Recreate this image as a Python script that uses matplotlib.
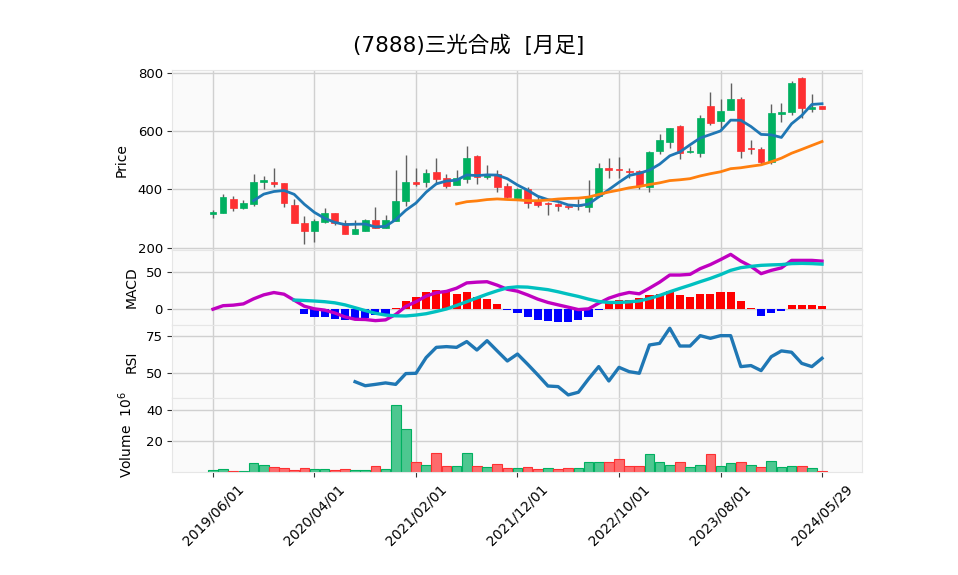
import numpy as np
import matplotlib
matplotlib.use("Agg")
import matplotlib.pyplot as plt

plt.rcParams['font.family'] = ['DejaVu Sans', 'Noto Sans CJK JP']

# 月足データ (2019/06 - 2024/05/29), 株価は円, 出来高は百万株
tick_labels = ['2019/06/01', '2020/04/01', '2021/02/01', '2021/12/01',
               '2022/10/01', '2023/08/01', '2024/05/29']

open_ = [316, 319, 368, 335, 349, 425, 427, 421, 345, 284, 257, 288, 318, 286, 248, 257,
         294, 269, 292, 360, 427, 425, 458, 438, 415, 436, 515, 442, 454, 413, 371, 400,
         360, 352, 349, 344, 344, 340, 378, 472, 470, 464, 463, 408, 531, 563, 618, 528,
         524, 687, 634, 671, 708, 542, 539, 493, 659, 664, 782, 675, 687]
high = [328, 385, 377, 364, 454, 447, 472, 421, 368, 310, 299, 335, 320, 296, 294, 297,
        341, 311, 467, 519, 474, 471, 508, 454, 467, 548, 519, 484, 466, 421, 406, 408,
        377, 357, 354, 350, 366, 432, 490, 507, 512, 474, 468, 532, 589, 612, 620, 548,
        654, 734, 710, 763, 717, 570, 544, 693, 696, 770, 785, 728, 687]
low = [303, 319, 326, 334, 343, 402, 409, 341, 284, 214, 220, 286, 278, 248, 248, 256,
       267, 269, 292, 343, 411, 407, 423, 406, 414, 423, 419, 435, 392, 371, 368, 335,
       340, 311, 325, 332, 328, 324, 374, 440, 439, 440, 400, 392, 521, 543, 503, 525,
       512, 620, 605, 671, 507, 520, 482, 488, 631, 656, 645, 666, 674]
close = [321, 373, 336, 352, 427, 431, 418, 354, 286, 257, 291, 318, 284, 248, 263, 294,
         269, 294, 362, 424, 418, 455, 436, 411, 438, 508, 443, 449, 408, 375, 400, 354,
         346, 350, 343, 341, 342, 374, 474, 467, 466, 458, 411, 529, 568, 609, 525, 533,
         645, 628, 670, 710, 531, 538, 493, 662, 666, 765, 679, 683, 674]
volume = [1.1, 1.9, 0.6, 0.4, 5.8, 4.5, 3.2, 2.6, 1.3, 2.6, 1.9, 1.9, 1.3, 1.9, 1.3, 1.3,
          3.9, 1.9, 43.2, 27.7, 6.5, 4.5, 12.3, 3.9, 3.9, 12.3, 3.9, 3.2, 5.2, 2.4, 2.4, 3.0,
          1.7, 2.4, 1.7, 2.4, 2.4, 6.2, 6.2, 6.2, 8.2, 3.7, 3.7, 11.4, 6.2, 4.3, 6.2, 3.0,
          4.3, 11.4, 3.7, 5.6, 6.2, 4.3, 3.0, 6.9, 3.0, 3.7, 3.7, 2.4, 0.4]

nan = np.nan
ma5 = [nan, nan, nan, nan, 361.6, 383.8, 392.8, 396.4, 383.2, 349.2, 321.2, 301.2, 287.2,
       279.6, 280.8, 281.4, 271.6, 273.6, 296.4, 328.6, 353.4, 390.6, 419.0, 428.8, 431.6,
       449.6, 447.2, 449.8, 449.2, 436.6, 415.0, 397.2, 376.6, 365.0, 358.6, 346.8, 344.2,
       349.8, 374.6, 399.4, 424.4, 447.8, 455.2, 466.2, 486.4, 515.0, 528.4, 552.8, 576.0,
       588.0, 600.2, 637.2, 636.8, 615.4, 588.4, 586.8, 578.0, 624.8, 653.0, 691.0, 693.4]
ma25 = [nan] * 24 + [350.4, 357.9, 360.7, 365.2, 367.4, 365.4, 364.1, 361.6, 361.2, 363.8,
                     367.2, 369.2, 370.2, 373.8, 382.8, 391.0, 397.8, 405.4, 410.1, 416.8,
                     422.5, 430.2, 433.0, 436.8, 446.2, 453.8, 460.3, 471.0, 474.2, 479.4,
                     484.2, 494.6, 507.1, 523.9, 537.0, 550.6, 564.0]

macd = [0, 4.7, 5.4, 7.1, 13.8, 19.1, 22.2, 20.0, 12.0, 4.0, 0.5, -1.2, -5.0, -10.2, -13.4,
        -13.7, -15.2, -14.2, -7.0, 3.8, 10.0, 17.5, 22.0, 23.7, 28.0, 35.0, 36.0, 36.6, 32.0,
        26.5, 24.0, 19.0, 13.4, 9.0, 5.8, 2.7, -0.5, 0.5, 8.0, 14.7, 19.2, 22.3, 20.5, 28.0,
        36.0, 45.5, 45.5, 46.4, 54.0, 59.4, 66.0, 73.0, 64.0, 57.0, 47.3, 51.7, 55.0, 65.0,
        65.0, 65.0, 64.0]
signal = [nan] * 8 + [12.2, 11.6, 10.9, 10.0, 8.5, 5.8, 2.0, -1.8, -5.4, -7.8, -8.8, -9.0,
                      -7.8, -6.0, -3.0, 0.3, 5.0, 10.0, 15.0, 20.0, 24.5, 28.5, 29.8, 29.4,
                      27.7, 26.0, 23.2, 20.0, 17.0, 13.4, 10.3, 9.0, 9.0, 9.8, 11.0, 14.3,
                      18.3, 23.2, 27.7, 32.0, 36.6, 41.0, 46.0, 51.7, 55.3, 57.0, 58.4, 59.0,
                      59.4, 60.7, 61.0, 60.7, 60.0]
hist = [nan] * 8 + [0.0, -6.7, -10.7, -10.7, -12.5, -14.7, -12.9, -11.6, -8.0, -7.1, 1.8,
                    11.0, 16.0, 23.2, 25.0, 22.3, 20.5, 23.2, 16.0, 13.8, 7.1, -0.9, -4.5,
                    -9.8, -14.3, -15.2, -16.5, -16.5, -14.3, -9.8, -1.0, 11.0, 12.5, 12.5,
                    14.7, 19.2, 20.0, 24.5, 19.2, 16.5, 20.5, 20.5, 22.3, 23.2, 11.0, 1.3,
                    -8.5, -4.5, -1.8, 5.8, 5.8, 5.8, 4.5]
rsi = [nan] * 14 + [44.1, 41.4, 42.3, 43.3, 42.3, 49.6, 49.8, 60.4, 67.3, 67.8, 67.3, 71.2,
                    65.5, 71.8, 64.9, 58.1, 62.8, 55.9, 48.7, 41.2, 40.8, 35.2, 37.0, 46.0,
                    54.3, 44.6, 53.8, 50.9, 49.8, 68.9, 70.0, 80.2, 68.2, 68.2, 75.2, 73.4,
                    75.2, 75.2, 54.3, 55.0, 51.6, 61.0, 64.9, 64.0, 56.5, 54.3, 59.9]

x = np.arange(len(close))
o = np.array(open_)
c = np.array(close)
up = c >= o
vol_up = np.r_[True, c[1:] >= c[:-1]]

# 色 (yahoo風)
UP, DOWN, WICK = '#00b060', '#fe3032', '#606060'
VUP, VDOWN = '#4dc790', '#fd6b6c'
BG, GRID, EDGE = '#fafafa', '#d0d0d0', '#e6e6e6'

fig = plt.figure(figsize=(9.58, 5.75), dpi=100)
L, W = 0.1795, 0.7203
ax_p = fig.add_axes([L, 0.5652, W, 0.3131])
ax_m = fig.add_axes([L, 0.4348, W, 0.1304], sharex=ax_p)
ax_r = fig.add_axes([L, 0.3078, W, 0.1270], sharex=ax_p)
ax_v = fig.add_axes([L, 0.1791, W, 0.1287], sharex=ax_p)

for ax in (ax_p, ax_m, ax_r, ax_v):
    ax.set_facecolor(BG)
    ax.grid(True, color=GRID, linewidth=1)
    ax.set_axisbelow(True)
    for s in ax.spines.values():
        s.set_color(EDGE)
    ax.tick_params(axis='y', labelsize=9.5, length=3.5, color='#333333', pad=3)
    ax.tick_params(axis='x', length=0, labelbottom=False)

# ローソク足
ax_p.vlines(x, low, high, color=WICK, linewidth=1, zorder=2)
body = np.where(np.abs(c - o) < 1.5, 1.5, c - o)
ax_p.bar(x, body, bottom=o, width=0.66, color=np.where(up, UP, DOWN),
         edgecolor=np.where(up, UP, DOWN), linewidth=0.5, zorder=3)
ax_p.plot(x, ma5, color='#1f77b4', linewidth=2, zorder=4)
ax_p.plot(x, ma25, color='#ff7f0e', linewidth=2, zorder=4)
ax_p.set_ylim(192.5, 809)
ax_p.set_yticks([200, 400, 600, 800])
ax_p.set_ylabel('Price', fontsize=10)
ax_p.yaxis.set_label_coords(-0.063, 0.5)

# MACD
h = np.array(hist)
ax_m.bar(x, h, width=0.8, color=np.where(h >= 0, '#ff0000', '#0000ff'), zorder=2)
ax_m.plot(x, macd, color='#c000c0', linewidth=2.4, zorder=3)
ax_m.plot(x, signal, color='#00c0c0', linewidth=2.4, zorder=3)
ax_m.set_ylim(-21, 78.8)
ax_m.set_yticks([0, 50])
ax_m.set_ylabel('MACD', fontsize=10)
ax_m.yaxis.set_label_coords(-0.049, 0.5)

# RSI
ax_r.plot(x, rsi, color='#1f77b4', linewidth=2.4)
ax_r.set_ylim(33.1, 82.4)
ax_r.set_yticks([50, 75])
ax_r.set_ylabel('RSI', fontsize=10)
ax_r.yaxis.set_label_coords(-0.049, 0.5)

# 出来高
ax_v.bar(x, volume, width=0.95, color=np.where(vol_up, VUP, VDOWN),
         edgecolor=np.where(vol_up, UP, DOWN), linewidth=0.8)
ax_v.set_ylim(0, 47.7)
ax_v.set_yticks([20, 40])
ax_v.set_ylabel('Volume  $10^{6}$', fontsize=10)
ax_v.yaxis.set_label_coords(-0.053, 0.5)

ax_v.set_xlim(-4.04, 63.94)
ax_v.set_xticks(np.arange(0, len(close), 10))
ax_v.set_xticklabels(tick_labels)
ax_v.tick_params(axis='x', length=3.5, color='#333333', labelbottom=True,
                 labelrotation=45, labelsize=10)

fig.suptitle('(7888)三光合成  [月足]', x=0.489, y=0.921, va='center', fontsize=15.5)

fig.savefig('out.png', dpi=100)
